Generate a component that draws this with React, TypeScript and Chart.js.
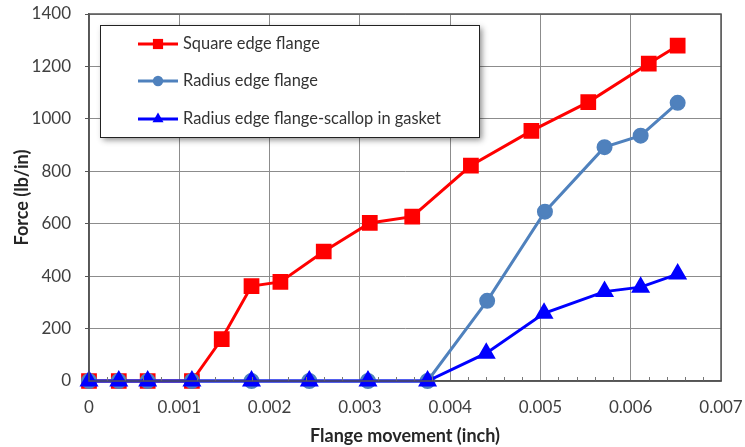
import React, { useEffect, useRef } from "react";
import { Chart, registerables } from "chart.js";

Chart.register(...registerables);

const seriesNames = ["Square edge flange", "Radius edge flange", "Radius edge flange-scallop in gasket"];

const squareX = [0, 0.00033, 0.00065, 0.00114, 0.00147, 0.0018, 0.00212, 0.0026, 0.00311, 0.00358, 0.00423, 0.0049, 0.00553, 0.0062, 0.00652];
const squareY = [0, 0, 0, 0, 160, 362, 378, 494, 603, 627, 822, 954, 1064, 1211, 1279];

const radiusX = [0, 0.00033, 0.00065, 0.00114, 0.0018, 0.00244, 0.00309, 0.00375, 0.00441, 0.00505, 0.00571, 0.00611, 0.00652];
const radiusY = [0, 0, 0, 0, 0, 0, 0, 0, 306, 646, 892, 936, 1061];

const scallopX = [0, 0.00033, 0.00065, 0.00114, 0.0018, 0.00244, 0.00309, 0.00375, 0.0044, 0.00504, 0.00571, 0.00611, 0.00652];
const scallopY = [0, 0, 0, 0, 0, 0, 0, 0, 106, 258, 341, 358, 408];

const xTicks = [0, 0.001, 0.002, 0.003, 0.004, 0.005, 0.006, 0.007];
const yTicks = [0, 200, 400, 600, 800, 1000, 1200, 1400];

const FONT = "Lato, 'Open Sans', sans-serif";

const pts = (xs: number[], ys: number[]) => xs.map((x, i) => ({ x, y: ys[i] }));

export default function App() {
  const ref = useRef<HTMLCanvasElement | null>(null);
  useEffect(() => {
    document.body.style.margin = "0";
    const canvas = ref.current!;
    const minorTicks = {
      id: "minorTicks",
      afterDatasetsDraw(chart: any) {
        const ctx = chart.ctx;
        const xs = chart.scales.x;
        const ys = chart.scales.y;
        const bottom = ys.getPixelForValue(0);
        ctx.save();
        ctx.strokeStyle = "#777";
        ctx.lineWidth = 1;
        for (let i = 1; i < 35; i++) {
          if (i % 5 === 0) continue;
          const px = Math.round(xs.getPixelForValue(i * 0.0002)) + 0.5;
          ctx.beginPath();
          ctx.moveTo(px, bottom - 4);
          ctx.lineTo(px, bottom);
          ctx.stroke();
        }
        ctx.restore();
      },
    };
    const legendBox = {
      id: "legendBox",
      afterDraw(chart: any) {
        const ctx = chart.ctx;
        const x0 = 100, y0 = 25, w = 379, h = 112;
        ctx.save();
        ctx.shadowColor = "rgba(0,0,0,0.45)";
        ctx.shadowBlur = 6;
        ctx.shadowOffsetX = 3;
        ctx.shadowOffsetY = 3;
        ctx.fillStyle = "#fff";
        ctx.fillRect(x0, y0, w, h);
        ctx.restore();
        ctx.save();
        ctx.strokeStyle = "#222";
        ctx.lineWidth = 1;
        ctx.strokeRect(x0 + 0.5, y0 + 0.5, w, h);
        const rows = [44, 81, 119];
        chart.data.datasets.slice().sort((a: any, b: any) => b.order - a.order).forEach((ds: any, i: number) => {
          const y = rows[i];
          ctx.strokeStyle = ds.borderColor;
          ctx.lineWidth = 3;
          ctx.beginPath();
          ctx.moveTo(138, y);
          ctx.lineTo(178, y);
          ctx.stroke();
          ctx.fillStyle = ds.backgroundColor;
          const r = ds.pointRadius * 0.8;
          ctx.beginPath();
          if (ds.pointStyle === "rect") {
            const s = r * Math.SQRT1_2;
            ctx.rect(158 - s, y - s, 2 * s, 2 * s);
          } else if (ds.pointStyle === "circle") {
            ctx.arc(158, y, r, 0, Math.PI * 2);
          } else {
            ctx.moveTo(158, y - r);
            ctx.lineTo(158 + r * 0.866, y + r * 0.5);
            ctx.lineTo(158 - r * 0.866, y + r * 0.5);
            ctx.closePath();
          }
          ctx.fill();
          ctx.fillStyle = "#333";
          ctx.font = "16.4px " + FONT;
          ctx.textBaseline = "middle";
          ctx.textAlign = "left";
          ctx.fillText(ds.label, 183, y);
        });
        ctx.restore();
      },
    };
    const chart = new Chart(canvas, {
      type: "line",
      data: {
        datasets: [
          {
            label: seriesNames[0],
            data: pts(squareX, squareY),
            borderColor: "#FF0000",
            backgroundColor: "#FF0000",
            pointStyle: "rect",
            pointRadius: 9,
            borderWidth: 3,
            order: 2,
            clip: false,
          },
          {
            label: seriesNames[1],
            data: pts(radiusX, radiusY),
            borderColor: "#4F81BD",
            backgroundColor: "#4F81BD",
            pointStyle: "circle",
            pointRadius: 6.5,
            borderWidth: 3,
            order: 1,
            clip: false,
          },
          {
            label: seriesNames[2],
            data: pts(scallopX, scallopY),
            borderColor: "#0000FF",
            backgroundColor: "#0000FF",
            pointStyle: "triangle",
            pointRadius: 8,
            borderWidth: 3,
            order: 0,
            clip: false,
          },
        ],
      },
      options: {
        animation: false,
        responsive: false,
        devicePixelRatio: 1,
        layout: { padding: { top: 14, right: 24, left: 0, bottom: 0 } },
        plugins: { legend: { display: false }, tooltip: { enabled: false } },
        elements: { line: { tension: 0 }, point: { borderWidth: 1 } },
        scales: {
          x: {
            type: "linear",
            min: 0,
            max: 0.007,
            afterBuildTicks: (s: any) => { s.ticks = xTicks.map((v) => ({ value: v })); },
            afterFit: (s: any) => { s.height = 66; s.paddingLeft = 0; s.paddingRight = 0; },
            ticks: {
              color: "#404040",
              font: { family: FONT, size: 17 },
              padding: 16,
              callback: (v: any) => String(+Number(v).toFixed(3)),
            },
            grid: { color: "#8c8c8c", lineWidth: 1, drawTicks: false },
            border: { color: "#555", width: 1.5 },
            title: {
              display: true,
              text: "Flange movement (inch)",
              color: "#262626",
              font: { family: FONT, size: 18, weight: "bold" },
              padding: { top: 0, bottom: 0 },
            },
          },
          y: {
            min: 0,
            max: 1400,
            afterBuildTicks: (s: any) => { s.ticks = yTicks.map((v) => ({ value: v })); },
            afterFit: (s: any) => { s.width = 89; s.paddingTop = 0; s.paddingBottom = 0; },
            ticks: {
              color: "#404040",
              font: { family: FONT, size: 17 },
              padding: 14,
              callback: (v: any) => String(v),
            },
            grid: { color: "#8c8c8c", lineWidth: 1, tickLength: 4, tickColor: "#555" },
            border: { color: "#555", width: 1.5 },
            title: {
              display: true,
              text: "Force (lb/in)",
              color: "#262626",
              font: { family: FONT, size: 18, weight: "bold" },
              padding: { top: 11, bottom: 0 },
            },
          },
        },
      },
      plugins: [minorTicks, legendBox,
        {
          id: "frame",
          afterDraw(chart: any) {
            const a = chart.chartArea;
            const ctx = chart.ctx;
            ctx.save();
            ctx.strokeStyle = "#555";
            ctx.lineWidth = 1.5;
            ctx.strokeRect(a.left, a.top, a.right - a.left, a.bottom - a.top);
            ctx.restore();
          },
        }],
    } as any);
    return () => chart.destroy();
  }, []);
  return <canvas ref={ref} width={745} height={447} style={{ display: "block", width: 745, height: 447 }} />;
}
